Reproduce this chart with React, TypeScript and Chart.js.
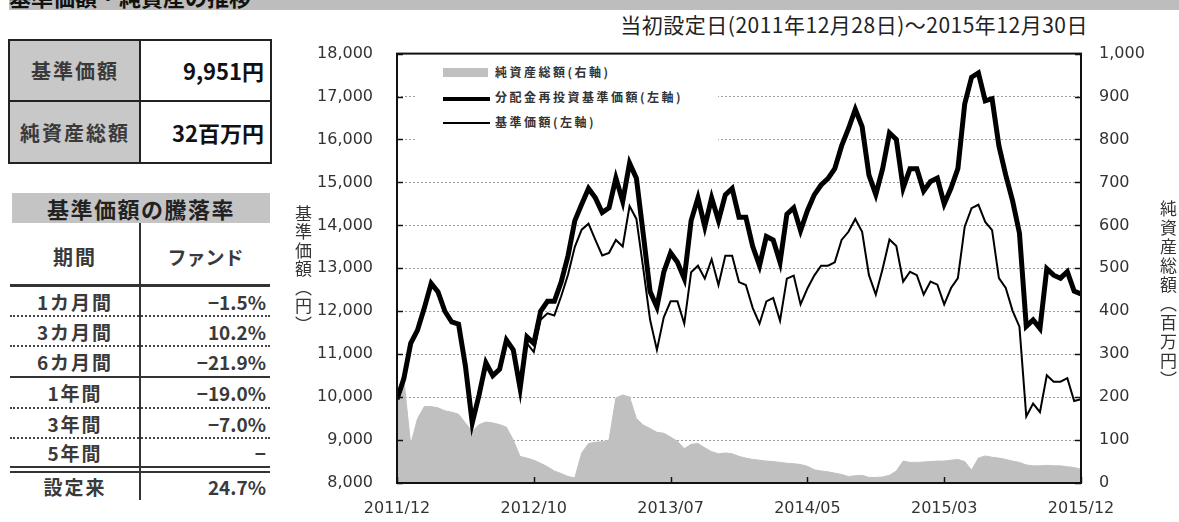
import React, { useEffect, useRef } from 'react';
import { Chart, registerables } from 'chart.js';
Chart.register(...registerables);

// x axis labels (evenly spaced over 101 half-month points)
const xLabels = ['2011/12', '2012/10', '2013/07', '2014/05', '2015/03', '2015/12'];

// 分配金再投資基準価額 (left axis, yen)
const navReinvested = [
  9950, 10430, 11250, 11560, 12080, 12650, 12450, 12000, 11750, 11700,
  10730, 9400, 10050, 10800, 10500, 10650, 11330, 11100, 10200, 11400,
  11250, 12000, 12230, 12230, 12680, 13290, 14110, 14490, 14860, 14640,
  14300, 14410, 15100, 14560, 15450, 15100, 13800, 12460, 12100, 12910,
  13360, 13140, 12760, 14110, 14640, 13970, 14640, 14110, 14710, 14860,
  14190, 14190, 13510, 13060, 13740, 13660, 13140, 14260, 14410, 13880,
  14340, 14710, 14940, 15090, 15320, 15850, 16250, 16700, 16300, 15170,
  14720, 15320, 16150, 16000, 14870, 15320, 15320, 14800, 15020, 15100,
  14500, 14870, 15320, 16830, 17450, 17550, 16900, 16950, 15850, 15170,
  14570, 13820, 11650, 11800, 11600, 12990, 12840, 12770, 12920, 12470,
  12400,
];

// 基準価額 (left axis, yen)
const nav = [
  9950, 10430, 11250, 11560, 12080, 12650, 12450, 12000, 11750, 11700,
  10730, 9400, 10050, 10800, 10500, 10650, 11330, 11100, 10150, 11250,
  11050, 11800, 11950, 11900, 12350, 12850, 13500, 13900, 14040, 13660,
  13300, 13360, 13660, 13510, 14450, 14150, 13000, 11800, 11100, 11860,
  12230, 12230, 11710, 12910, 13060, 12760, 13210, 12610, 13290, 13290,
  12680, 12610, 12080, 11710, 12230, 12310, 11780, 12760, 12830, 12160,
  12530, 12830, 13060, 13060, 13140, 13660, 13850, 14150, 13850, 12840,
  12390, 12990, 13670, 13520, 12690, 12920, 12840, 12390, 12690, 12620,
  12160, 12540, 12770, 13970, 14400, 14480, 14080, 13890, 12770, 12540,
  12010, 11640, 9550, 9850, 9650, 10510, 10360, 10360, 10440, 9910,
  9951,
];

// 純資産総額 (right axis, 百万円)
const netAssets = [
  210, 240, 90, 150, 178, 178, 175, 168, 165, 160,
  140, 120, 136, 142, 140, 136, 130, 100, 62, 58,
  53, 46, 38, 28, 22, 15, 12, 70, 92, 95,
  96, 100, 198, 205, 200, 150, 135, 127, 118, 116,
  107, 97, 80, 90, 92, 82, 73, 68, 70, 68,
  62, 58, 55, 53, 51, 50, 48, 46, 45, 43,
  39, 31, 28, 26, 23, 20, 15, 17, 18, 13,
  13, 14, 18, 28, 51, 48, 48, 49, 50, 51,
  51, 53, 55, 50, 30, 58, 63, 60, 58, 55,
  51, 48, 42, 40, 40, 41, 40, 40, 38, 36,
  32,
];

// left-side tables
const periodLabels = ['1カ月間', '3カ月間', '6カ月間', '1年間', '3年間', '5年間', '設定来'];
const fundReturns = ['−1.5%', '10.2%', '−21.9%', '−19.0%', '−7.0%', '−', '24.7%'];
const summaryLabels = ['基準価額', '純資産総額'];
const summaryValues = ['9,951円', '32百万円'];

const legendLabels = ['純資産総額(右軸)', '分配金再投資基準価額(左軸)', '基準価額(左軸)'];

const TICK_FONT = { family: '"DejaVu Sans", sans-serif', size: 16 };

const framePlugin = {
  id: 'frameTicks',
  afterDatasetsDraw(chart: any) {
    const { ctx, chartArea } = chart;
    const { left, right, top, bottom } = chartArea;
    ctx.save();
    ctx.strokeStyle = '#111';
    ctx.lineWidth = 1.5;
    const ys = chart.scales.y;
    ys.ticks.forEach((t: any) => {
      const p = Math.round(ys.getPixelForValue(t.value)) + 0.5;
      ctx.beginPath();
      ctx.moveTo(left, p);
      ctx.lineTo(left + 6, p);
      ctx.stroke();
    });
    const y1 = chart.scales.y1;
    y1.ticks.forEach((t: any) => {
      const p = Math.round(y1.getPixelForValue(t.value)) + 0.5;
      ctx.beginPath();
      ctx.moveTo(right - 6, p);
      ctx.lineTo(right, p);
      ctx.stroke();
    });
    const xs = chart.scales.x;
    xs.ticks.forEach((t: any) => {
      const p = Math.round(xs.getPixelForValue(t.value)) + 0.5;
      ctx.beginPath();
      ctx.moveTo(p, bottom);
      ctx.lineTo(p, bottom - 6);
      ctx.stroke();
    });
    ctx.lineWidth = 2;
    ctx.strokeStyle = '#111';
    ctx.strokeRect(left, top, right - left, bottom - top);
    ctx.restore();
  },
};

const abs = (s: React.CSSProperties): React.CSSProperties => ({ position: 'absolute', ...s });

export default function App() {
  const ref = useRef<HTMLCanvasElement>(null);

  useEffect(() => {
    const toPts = (arr: number[]) => arr.map((v, i) => ({ x: i, y: v }));
    const chart = new Chart(ref.current as HTMLCanvasElement, {
      type: 'line',
      data: {
        datasets: [
          {
            label: legendLabels[2],
            data: toPts(nav),
            borderColor: '#000',
            borderWidth: 2,
            pointRadius: 0,
            tension: 0,
            yAxisID: 'y',
            order: 1,
          },
          {
            label: legendLabels[1],
            data: toPts(navReinvested),
            borderColor: '#000',
            borderWidth: 5,
            pointRadius: 0,
            tension: 0,
            yAxisID: 'y',
            order: 2,
          },
          {
            label: legendLabels[0],
            data: toPts(netAssets),
            borderColor: '#c0c0c0',
            backgroundColor: '#c0c0c0',
            borderWidth: 1,
            pointRadius: 0,
            tension: 0,
            fill: 'origin',
            yAxisID: 'y1',
            order: 3,
          },
        ],
      },
      options: {
        responsive: false,
        animation: false,
        devicePixelRatio: 1,
        layout: { padding: { top: 22, left: 0, right: 0, bottom: 0 } },
        plugins: { legend: { display: false }, tooltip: { enabled: false } },
        scales: {
          x: {
            type: 'linear',
            min: 0,
            max: 100,
            grid: { display: false, drawTicks: false },
            border: { display: false },
            ticks: {
              stepSize: 20,
              autoSkip: false,
              maxRotation: 0,
              padding: 16,
              color: '#333',
              font: TICK_FONT,
              callback: (v: any) => xLabels[Math.round(Number(v) / 20)] ?? '',
            },
            afterFit: (s: any) => { s.height = 39; },
          },
          y: {
            position: 'left',
            min: 8000,
            max: 18000,
            grid: { color: '#9a9a9a', lineWidth: 1, drawTicks: false },
            border: { display: false, dash: [2, 2] },
            ticks: {
              stepSize: 1000,
              padding: 24,
              color: '#333',
              font: TICK_FONT,
              callback: (v: any) => Number(v).toLocaleString('en-US'),
            },
            afterFit: (s: any) => { s.width = 117; },
          },
          y1: {
            position: 'right',
            min: 0,
            max: 1000,
            grid: { display: false, drawTicks: false },
            border: { display: false },
            ticks: {
              stepSize: 100,
              padding: 18,
              color: '#333',
              font: TICK_FONT,
              callback: (v: any) => Number(v).toLocaleString('en-US'),
            },
            afterFit: (s: any) => { s.width = 98; },
          },
        },
      },
      plugins: [framePlugin],
    } as any);
    return () => chart.destroy();
  }, []);

  const jp = '"Noto Sans CJK JP", "Noto Sans", sans-serif';

  const rowTops = [287, 317, 347, 378, 409, 439, 473];
  const rowHeights = [29, 29, 29, 29, 28, 27, 27];

  return (
    <div style={abs({ left: 0, top: 0, width: 1179, height: 522, overflow: 'hidden', background: '#fff', fontFamily: jp, color: '#222' })}>
      {/* top banner */}
      <div style={abs({ left: 9, top: 0, width: 1170, height: 10, background: '#bdbdbd', overflow: 'hidden' })}>
        <div style={abs({ left: 0, top: -15, fontSize: 22, fontWeight: 'bold', lineHeight: '22px', whiteSpace: 'nowrap', color: '#111' })}>
          基準価額・純資産の推移
        </div>
      </div>

      {/* subtitle */}
      <div style={abs({ right: 91, top: 12, fontSize: 21, lineHeight: '24px', letterSpacing: '0.5px', whiteSpace: 'nowrap', color: '#222' })}>
        当初設定日(2011年12月28日)～2015年12月30日
      </div>

      {/* summary table */}
      <div style={abs({ left: 8, top: 39, width: 132, height: 125, background: '#c8c8c8' })} />
      <div style={abs({ left: 8, top: 39, width: 264, height: 125, border: '2px solid #222', boxSizing: 'border-box' })} />
      <div style={abs({ left: 139, top: 39, width: 2, height: 125, background: '#222' })} />
      <div style={abs({ left: 8, top: 100, width: 264, height: 2, background: '#222' })} />
      {summaryLabels.map((l, i) => (
        <React.Fragment key={l}>
          <div style={abs({ left: 10, top: 39 + i * 62, width: 130, height: 62, display: 'flex', alignItems: 'center', justifyContent: 'center', fontSize: 20, letterSpacing: '2px', fontWeight: 'bold', color: '#3a3a3a' })}>{l}</div>
          <div style={abs({ left: 140, top: 39 + i * 62, width: 124, height: 62, display: 'flex', alignItems: 'center', justifyContent: 'flex-end', fontSize: 22, fontWeight: 'bold', color: '#111' })}>{summaryValues[i]}</div>
        </React.Fragment>
      ))}

      {/* returns table */}
      <div style={abs({ left: 12, top: 193, width: 258, height: 30, background: '#c4c4c4', display: 'flex', alignItems: 'center', justifyContent: 'center', fontSize: 22, letterSpacing: '1.5px', fontWeight: 'bold', color: '#222' })}>
        基準価額の騰落率
      </div>
      <div style={abs({ left: 139, top: 223, width: 2, height: 277, background: '#333' })} />
      <div style={abs({ left: 10, top: 240, width: 130, height: 32, display: 'flex', alignItems: 'center', justifyContent: 'center', fontSize: 20, letterSpacing: '2px', fontWeight: 'bold', color: '#3a3a3a' })}>期間</div>
      <div style={abs({ left: 141, top: 240, width: 129, height: 32, display: 'flex', alignItems: 'center', justifyContent: 'center', fontSize: 19, fontWeight: 'bold', color: '#3a3a3a' })}>ファンド</div>
      <div style={abs({ left: 10, top: 284, width: 260, height: 3, background: '#333' })} />
      {periodLabels.map((l, i) => (
        <React.Fragment key={l}>
          <div style={abs({ left: 10, top: rowTops[i], width: 130, height: rowHeights[i], display: 'flex', alignItems: 'center', justifyContent: 'center', fontSize: 19, letterSpacing: '2px', fontWeight: 'bold', color: '#3a3a3a' })}>{l}</div>
          <div style={abs({ left: 141, top: rowTops[i], width: 125, height: rowHeights[i], display: 'flex', alignItems: 'center', justifyContent: 'flex-end', fontSize: 19, fontWeight: 'bold', color: '#3a3a3a' })}>{fundReturns[i]}</div>
        </React.Fragment>
      ))}
      {[315, 345, 407, 437].map((y) => (
        <div key={y} style={abs({ left: 10, top: y, width: 260, height: 0, borderTop: '2px dotted #444' })} />
      ))}
      <div style={abs({ left: 10, top: 376, width: 260, height: 2, background: '#333' })} />
      <div style={abs({ left: 10, top: 466, width: 260, height: 2, background: '#333' })} />
      <div style={abs({ left: 10, top: 471, width: 260, height: 2, background: '#333' })} />

      {/* chart */}
      <canvas ref={ref} width={899} height={502} style={abs({ left: 280, top: 20, width: 899, height: 502 })} />

      {/* axis titles */}
      <div style={abs({ left: 293, top: 205, writingMode: 'vertical-rl', fontSize: 17, lineHeight: '20px', letterSpacing: '1.5px', color: '#333', whiteSpace: 'nowrap' })}>
        基準価額（円）
      </div>
      <div style={abs({ left: 1158, top: 200, writingMode: 'vertical-rl', fontSize: 17, lineHeight: '20px', letterSpacing: '2px', color: '#333', whiteSpace: 'nowrap' })}>
        純資産総額（百万円）
      </div>

      {/* legend */}
      <div style={abs({ left: 415, top: 56, width: 303, height: 86, background: '#fff' })}>
        <div style={abs({ left: 28, top: 12, width: 45, height: 9, background: '#c0c0c0' })} />
        <div style={abs({ left: 28, top: 41, width: 47, height: 4, background: '#000' })} />
        <div style={abs({ left: 28, top: 66, width: 47, height: 2, background: '#000' })} />
        {legendLabels.map((l, i) => (
          <div key={l} style={abs({ left: 80, top: 8 + i * 25, fontSize: 12, fontWeight: 'bold', lineHeight: '16px', letterSpacing: '2.5px', whiteSpace: 'nowrap', color: '#333' })}>{l}</div>
        ))}
      </div>
    </div>
  );
}
